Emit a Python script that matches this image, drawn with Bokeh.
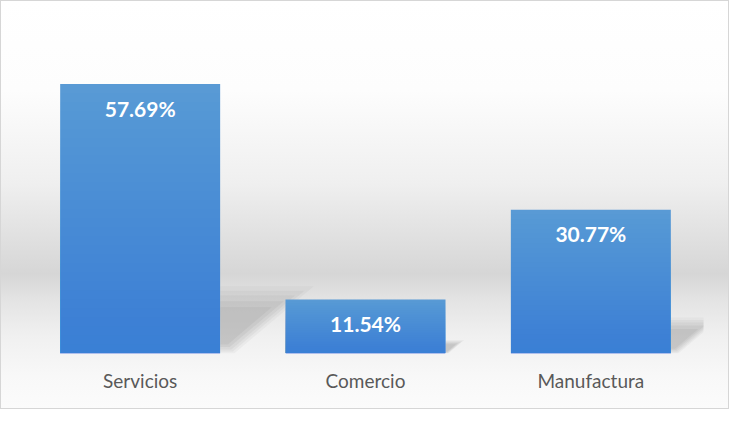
import numpy as np
from bokeh.plotting import figure
from bokeh.models import FixedTicker, Range1d, ColumnDataSource
from bokeh.core.properties import value
from bokeh.embed import file_html
from bokeh.resources import INLINE

categories = ["Servicios", "Comercio", "Manufactura"]
values = [57.69, 11.54, 30.77]
labels = ["57.69%", "11.54%", "30.77%"]

xpos = list(range(len(categories)))
bar_w = 0.71

p = figure(width=729, height=409, output_backend="svg", toolbar_location=None,
           x_range=Range1d(-0.5, 2.5), y_range=Range1d(0, 70),
           min_border_left=27, min_border_right=26, min_border_top=26, min_border_bottom=56)
p.background_fill_color = None
p.border_fill_color = None
p.outline_line_color = None
p.styles = {
    "background": "linear-gradient(to bottom, #ffffff 0%, #fdfdfd 22%, #efefef 45%, #dedede 60%, #d6d6d6 67%, #e3e3e3 73%, #f0f0f0 82%, #f8f8f8 92%, #fbfbfb 100%)",
    "outline": "1px solid #d6d6d6",
    "outline-offset": "-1px",
}
p.grid.visible = False
p.yaxis.visible = False

# shadows (blurred, layered)
for f, a in [(1.0, 0.06), (0.9, 0.07), (0.8, 0.08), (0.68, 0.09), (0.55, 0.09)]:
    xs, ys = [], []
    for x, v in zip(xpos, values):
        right = x + bar_w / 2
        ext = 0.0072 * v
        top = 0.25 * v
        t = top if f == 1.0 else top * (0.3 + 0.7 * f)
        b = top * (1 - f) * 0.3
        xs.append([right, right, right + ext * f, right + ext * 0.15 * f])
        ys.append([b, t, t, b])
    p.patches(xs, ys, fill_color="#707070", fill_alpha=a, line_color=None)

src = ColumnDataSource(dict(x=xpos, top=values, label=labels, cat=categories))
p.vbar(x="x", top="top", width=bar_w, bottom=0, source=src, fill_color="#5b9bd5", line_color=None)

# vertical gradient on bars
n = 30
for k in range(1, n + 1):
    frac = k / n
    p.vbar(x=xpos, top=[v * frac for v in values], width=bar_w, bottom=0,
           fill_color="#2a74c9", fill_alpha=0.022, line_color=None)

p.text(x="x", y="top", text="label", source=src, y_offset=24,
       text_align="center", text_baseline="middle", text_color="white",
       text_font=value("Lato"), text_font_style="bold", text_font_size="21px")

p.xaxis.ticker = FixedTicker(ticks=xpos)
p.xaxis.major_label_overrides = {i: c for i, c in zip(xpos, categories)}
p.xaxis.axis_line_color = None
p.xaxis.major_tick_line_color = None
p.xaxis.minor_tick_line_color = None
p.xaxis.major_tick_out = 0
p.xaxis.major_tick_in = 0
p.xaxis.major_label_standoff = 15
p.xaxis.major_label_text_font = "Lato"
p.xaxis.major_label_text_font_size = "19px"
p.xaxis.major_label_text_color = "#595959"

open("out.html", "w").write(file_html(p, INLINE))
